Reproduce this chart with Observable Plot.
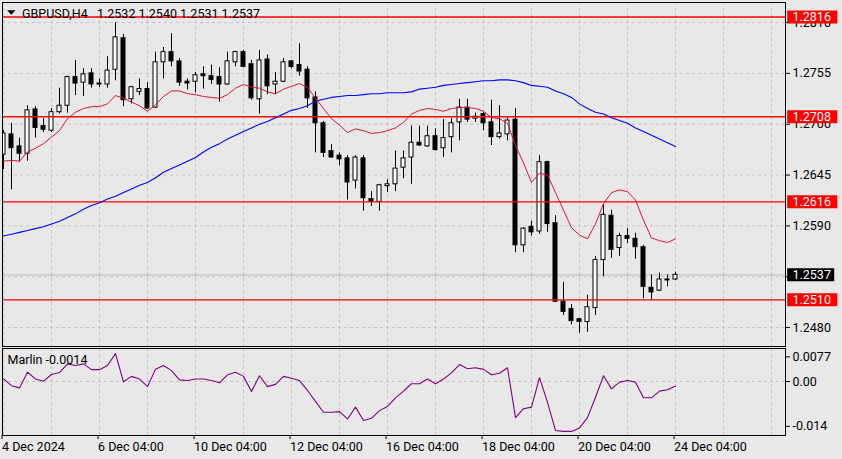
<!DOCTYPE html>
<html><head><meta charset="utf-8">
<script src="https://cdn.jsdelivr.net/npm/d3@7"></script>
<script src="https://cdn.jsdelivr.net/npm/@observablehq/plot@0.6"></script>
<style>
html,body{margin:0;padding:0;background:#e8e8e8;}
#chart{position:relative;width:842px;height:459px;overflow:hidden;background:#e8e8e8;}
#chart svg{position:absolute;left:0;}
</style></head><body><div id="chart"></div>
<script>
// ---- data (GBPUSD H4) ----
const opens=[1.2667,1.2689,1.2676,1.2668,1.2716,1.2698,1.2693,1.2713,1.2720,1.2751,
1.2745,1.2755,1.2743,1.2743,1.2759,1.2793,1.2727,1.2735,1.2738,1.2718,
1.2767,1.2778,1.2768,1.2746,1.2746,1.2754,1.2752,1.2751,1.2743,1.2767,
1.2778,1.2765,1.2727,1.2770,1.2743,1.2746,1.2768,1.2764,1.2759,1.2729,
1.2701,1.2671,1.2666,1.2663,1.2639,1.2663,1.2619,1.2616,1.2633,1.2635,
1.2653,1.2664,1.2680,1.2676,1.2687,1.2674,1.2686,1.2702,1.2718,1.2706,
1.2711,1.2702,1.2686,1.2689,1.2705,1.2569,1.2589,1.2584,1.2659,1.2593,
1.2508,1.2500,1.2489,1.2486,1.2501,1.2553,1.2601,1.2566,1.2579,1.2576,
1.2567,1.2523,1.2520,1.2531,1.2532];
const highs=[1.2693,1.2701,1.2685,1.2720,1.2719,1.2706,1.2717,1.2739,1.2752,1.2769,
1.2760,1.2760,1.2749,1.2773,1.2810,1.2797,1.2741,1.2749,1.2745,1.2778,
1.2783,1.2798,1.2771,1.2749,1.2756,1.2762,1.2764,1.2761,1.2778,1.2779,
1.2780,1.2769,1.2780,1.2775,1.2756,1.2771,1.2769,1.2787,1.2762,1.2735,
1.2703,1.2678,1.2669,1.2666,1.2666,1.2666,1.2627,1.2635,1.2640,1.2671,
1.2671,1.2698,1.2698,1.2698,1.2695,1.2705,1.2706,1.2727,1.2727,1.2712,
1.2713,1.2726,1.2720,1.2707,1.2717,1.2588,1.2595,1.2666,1.2660,1.2601,
1.2529,1.2505,1.2490,1.2515,1.2557,1.2613,1.2607,1.2582,1.2587,1.2582,
1.2569,1.2537,1.2539,1.2537,1.2540];
const lows=[1.2651,1.2629,1.2659,1.2660,1.2685,1.2691,1.2691,1.2711,1.2712,1.2731,
1.2730,1.2739,1.2740,1.2739,1.2747,1.2719,1.2722,1.2731,1.2716,1.2717,
1.2749,1.2762,1.2741,1.2737,1.2734,1.2738,1.2743,1.2724,1.2742,1.2762,
1.2761,1.2726,1.2711,1.2732,1.2732,1.2745,1.2760,1.2752,1.2717,1.2669,
1.2664,1.2663,1.2655,1.2618,1.2630,1.2606,1.2611,1.2606,1.2626,1.2627,
1.2641,1.2635,1.2676,1.2675,1.2671,1.2664,1.2669,1.2682,1.2702,1.2702,
1.2693,1.2677,1.2684,1.2682,1.2561,1.2561,1.2579,1.2581,1.2583,1.2507,
1.2493,1.2483,1.2474,1.2475,1.2493,1.2535,1.2555,1.2557,1.2571,1.2554,
1.2511,1.2509,1.2519,1.2524,1.2531];
const closes=[1.2690,1.2674,1.2668,1.2715,1.2696,1.2694,1.2713,1.2720,1.2751,1.2744,
1.2754,1.2743,1.2744,1.2758,1.2794,1.2726,1.2740,1.2738,1.2717,1.2767,
1.2778,1.2768,1.2745,1.2744,1.2753,1.2752,1.2748,1.2743,1.2768,1.2778,
1.2762,1.2728,1.2769,1.2741,1.2746,1.2767,1.2762,1.2757,1.2728,1.2701,
1.2669,1.2664,1.2662,1.2637,1.2664,1.2620,1.2616,1.2634,1.2635,1.2652,
1.2663,1.2680,1.2677,1.2687,1.2672,1.2685,1.2701,1.2718,1.2705,1.2708,
1.2701,1.2686,1.2690,1.2704,1.2569,1.2587,1.2583,1.2659,1.2592,1.2508,
1.2497,1.2487,1.2486,1.2502,1.2553,1.2602,1.2564,1.2579,1.2576,1.2567,
1.2524,1.2518,1.2532,1.2532,1.2537];
const fastMA=[1.2660,1.2661,1.2660,1.2670,1.2674,1.2679,1.2686,1.2693,1.2706,1.2713,
1.2717,1.2719,1.2719,1.2722,1.2731,1.2728,1.2724,1.2720,1.2714,1.2721,
1.2730,1.2736,1.2736,1.2733,1.2732,1.2730,1.2729,1.2728,1.2732,1.2739,
1.2743,1.2740,1.2739,1.2735,1.2733,1.2738,1.2741,1.2744,1.2740,1.2728,
1.2717,1.2706,1.2699,1.2691,1.2695,1.2693,1.2690,1.2691,1.2693,1.2696,
1.2702,1.2711,1.2715,1.2717,1.2716,1.2714,1.2717,1.2718,1.2718,1.2717,
1.2714,1.2707,1.2706,1.2701,1.2677,1.2658,1.2637,1.2647,1.2645,1.2626,
1.2607,1.2588,1.2580,1.2576,1.2592,1.2614,1.2626,1.2629,1.2627,1.2618,
1.2596,1.2577,1.2574,1.2572,1.2576];
const slowMA=[1.2579,1.2581,1.2583,1.2585,1.2587,1.2589,1.2592,1.2595,1.2599,1.2603,
1.2608,1.2612,1.2615,1.2619,1.2622,1.2626,1.2630,1.2634,1.2637,1.2642,
1.2648,1.2652,1.2656,1.2660,1.2664,1.2670,1.2675,1.2679,1.2684,1.2688,
1.2692,1.2696,1.2700,1.2703,1.2707,1.2711,1.2715,1.2717,1.2720,1.2725,
1.2727,1.2729,1.2730,1.2731,1.2731,1.2732,1.2733,1.2733,1.2734,1.2734,
1.2734,1.2735,1.2738,1.2739,1.2740,1.2742,1.2743,1.2744,1.2745,1.2746,
1.2747,1.2747,1.2748,1.2748,1.2747,1.2745,1.2742,1.2741,1.2740,1.2736,
1.2733,1.2729,1.2722,1.2717,1.2713,1.2711,1.2707,1.2704,1.2701,1.2696,
1.2692,1.2688,1.2684,1.2680,1.2676];
const marlin=[0.0008,-0.0013,-0.0020,0.0029,0.0008,0.0001,0.0022,0.0028,0.0055,0.0050,
0.0055,0.0037,0.0037,0.0050,0.0087,-0.0001,0.0016,0.0008,-0.0016,0.0038,
0.0050,0.0034,0.0005,0.0003,0.0008,0.0008,0.0003,-0.0004,0.0021,0.0029,
0.0016,-0.0031,0.0018,-0.0016,-0.0009,0.0016,0.0010,0.0003,-0.0028,-0.0062,
-0.0096,-0.0096,-0.0094,-0.0117,-0.0080,-0.0122,-0.0115,-0.0091,-0.0078,-0.0051,
-0.0030,-0.0007,-0.0007,0.0008,-0.0007,0.0008,0.0027,0.0053,0.0040,0.0043,
0.0038,0.0021,0.0026,0.0043,-0.0113,-0.0085,-0.0080,0.0012,-0.0065,-0.0153,
-0.0156,-0.0156,-0.0145,-0.0113,-0.0049,0.0018,-0.0023,-0.0002,0.0003,-0.0002,
-0.0051,-0.0051,-0.0030,-0.0026,-0.0014];
const levelPrices=[1.2816,1.2708,1.2616,1.2510];
const levelWidths=[1.5,1.5,1.1,1.1];
const priceTicks=[1.2480,1.2535,1.2590,1.2645,1.2700,1.2755,1.2810];
const marlinTicks=[0.0077,0,-0.014];
const marlinTickLabels=["0.0077","0.00","-0.014"];
const gridBars=[0,6,12,18,24,30,36,42,48,54,60,66,72,78,84,90,96];
const labelBars=[0,12,24,36,48,60,72,84];
const dateLabels=["4 Dec 2024","6 Dec 04:00","10 Dec 04:00","12 Dec 04:00","16 Dec 04:00","18 Dec 04:00","20 Dec 04:00","24 Dec 04:00"];
const symbolName="GBPUSD,H4";
const indicatorName="Marlin";

// ---- build ----
const FONT="Roboto, 'Liberation Sans', sans-serif";
const candles=opens.map((o,i)=>({i,open:o,high:highs[i],low:lows[i],close:closes[i]}));
const last=candles[candles.length-1];
const fmt4=d3.format(".4f");
const xDomain=[-0.125,97.75];
const gridStyle={stroke:"#c4c4c4",strokeOpacity:1,strokeDasharray:"3,3"};
const tagShape=(w)=>({draw(ctx){ctx.moveTo(1.7,-6.5);ctx.lineTo(1.7+w,-6.5);ctx.lineTo(1.7+w,6.5);ctx.lineTo(1.7,6.5);ctx.closePath();}});
const triDown={draw(ctx){ctx.moveTo(-4.2,-2.2);ctx.lineTo(4.2,-2.2);ctx.lineTo(0,2.2);ctx.closePath();}};
const redTags=levelPrices.map(p=>({price:p}));
const titleText=`${symbolName}\u00a0\u00a0\u00a0${[last.open,last.high,last.low,last.close].map(fmt4).join(" ")}`;

const main=Plot.plot({
  width:842,height:348,
  marginLeft:2,marginRight:57,marginTop:2,marginBottom:2,
  style:{background:"transparent",fontFamily:FONT,fontSize:"12.5px",color:"#000",overflow:"visible"},
  x:{domain:xDomain,axis:null},
  y:{domain:[1.24595,1.28317],axis:null},
  marks:[
    Plot.gridX({ticks:gridBars,...gridStyle}),
    Plot.gridY({ticks:priceTicks,...gridStyle}),
    Plot.ruleY([last.close],{stroke:"#bdbdbd"}),
    Plot.ruleX(candles,{x:"i",y1:"low",y2:"high",stroke:"#000",clip:true}),
    Plot.rect(candles,{x1:d=>d.i-0.25,x2:d=>d.i+0.25,y1:"open",y2:"close",
      fill:d=>d.close>=d.open?"#ffffff":"#000000",stroke:"#000",strokeWidth:1,clip:true}),
    Plot.ruleY(levelPrices.map((p,k)=>({p,w:levelWidths[k]})),{y:"p",stroke:"#ff0000",strokeWidth:"w"}),
    Plot.line(slowMA,{x:(d,i)=>i,y:d=>d,stroke:"#0000ff",strokeWidth:1.1}),
    Plot.line(fastMA,{x:(d,i)=>i,y:d=>d,stroke:"#dc143c",strokeWidth:1}),
    Plot.frame({stroke:"#000"}),
    Plot.axisY({anchor:"right",ticks:priceTicks,tickSize:4,tickPadding:3,tickFormat:fmt4,stroke:"#000",fill:"#000"}),
    Plot.dot(redTags,{y:"price",frameAnchor:"right",symbol:tagShape(50),fill:"#ff0000",stroke:"none"}),
    Plot.dot([last],{y:"close",frameAnchor:"right",symbol:tagShape(47),fill:"#000000",stroke:"none"}),
    Plot.text(redTags,{y:"price",text:d=>fmt4(d.price),frameAnchor:"right",textAnchor:"start",dx:7,fill:"#ffffff",fontSize:12.5}),
    Plot.text([last],{y:"close",text:d=>fmt4(d.close),frameAnchor:"right",textAnchor:"start",dx:7,fill:"#ffffff",fontSize:12.5}),
    Plot.dot([0],{frameAnchor:"top-left",dx:8.8,dy:10,symbol:triDown,fill:"#000",stroke:"none"}),
    Plot.text([titleText],{frameAnchor:"top-left",textAnchor:"start",lineAnchor:"top",dx:19.5,dy:6.3,fill:"#000",fontSize:12.5})
  ]
});
main.style.top="0px";

const labelMap=new Map(labelBars.map((b,k)=>[b,dateLabels[k]]));
const tickLabelMap=new Map(marlinTicks.map((t,k)=>[t,marlinTickLabels[k]]));
const ind=Plot.plot({
  width:842,height:112,
  marginLeft:2,marginRight:57,marginTop:1,marginBottom:24,
  style:{background:"transparent",fontFamily:FONT,fontSize:"12.5px",color:"#000",overflow:"visible"},
  x:{domain:xDomain,axis:null},
  y:{domain:[-0.016875,0.0103125],axis:null},
  marks:[
    Plot.gridX({ticks:gridBars,...gridStyle}),
    Plot.gridY({ticks:[0],...gridStyle}),
    Plot.line(marlin,{x:(d,i)=>i,y:d=>d,stroke:"#800080",strokeWidth:1.1}),
    Plot.frame({stroke:"#000"}),
    Plot.axisY({anchor:"right",ticks:marlinTicks,tickSize:4,tickPadding:3,tickFormat:d=>tickLabelMap.get(d),stroke:"#000",fill:"#000"}),
    Plot.axisX({anchor:"bottom",ticks:labelBars,tickSize:4,tickPadding:3,tickFormat:d=>labelMap.get(d),textAnchor:"start",dx:-1.5,stroke:"#000",fill:"#000"}),
    Plot.text([`${indicatorName} ${marlin[marlin.length-1].toFixed(4)}`],{frameAnchor:"top-left",textAnchor:"start",lineAnchor:"top",dx:5,dy:7,fill:"#000",fontSize:12.5})
  ]
});
ind.style.top="347px";
const root=document.getElementById("chart");
root.appendChild(main);
root.appendChild(ind);
</script></body></html>
